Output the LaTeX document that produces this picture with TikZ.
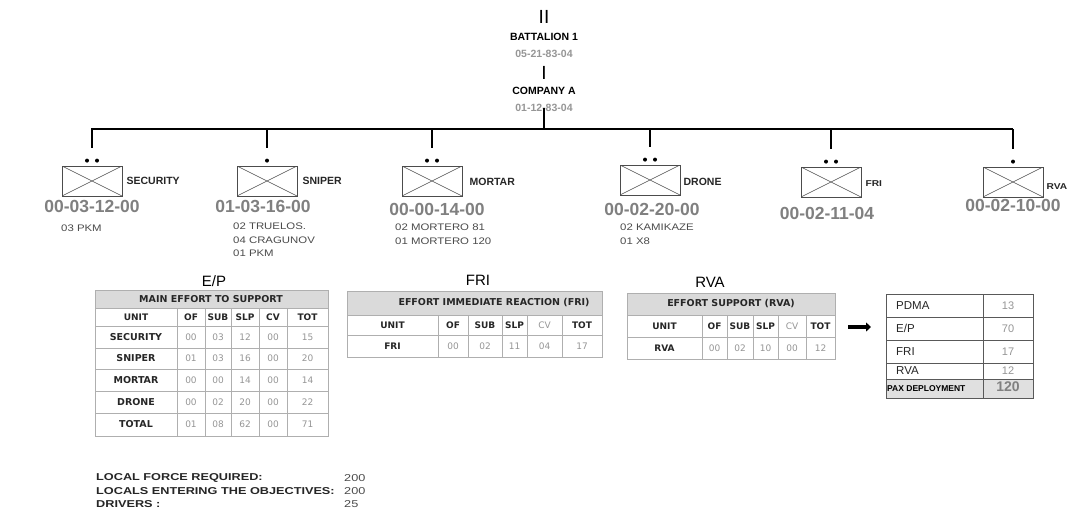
\documentclass[tikz,border=0pt]{standalone}
\usepackage{fontspec}
\setmainfont{Liberation Sans}
\newfontfamily\widesans[FakeStretch=1.2]{Liberation Sans}
\newfontfamily\footsans[FakeStretch=1.27]{Liberation Sans}
\newfontfamily\tabsans{DejaVu Sans}
\usetikzlibrary{positioning,arrows.meta}

\definecolor{codegray}{RGB}{128,128,128}
\definecolor{numgray}{RGB}{150,150,150}
\definecolor{gridgray}{RGB}{175,175,175}
\definecolor{headgray}{RGB}{218,218,218}
\definecolor{textgray}{RGB}{75,75,75}

\newcommand{\fs}[2]{\fontsize{#1}{#2}\selectfont}

\tikzset{
	unitbox/.style={draw=black!70, line width=0.8pt, minimum width=60pt, minimum height=30pt, inner sep=0pt,
		path picture={\draw[black!70, line width=0.6pt] (path picture bounding box.north west) -- (path picture bounding box.south east)
			(path picture bounding box.north east) -- (path picture bounding box.south west);}},
	unitlbl/.style={font=\fs{10.5}{12}\bfseries, text=black!85, inner sep=0pt, anchor=west},
	smalllbl/.style={font=\widesans\fs{8.5}{10}\bfseries, text=black!85, inner sep=0pt, anchor=west},
	unitcode/.style={font=\fs{17.5}{20}\bfseries, text=codegray, inner sep=0pt},
	subtxt/.style={font=\widesans\fs{9.5}{13.5}, text=textgray, align=left, inner sep=0pt, anchor=north west},
	hqname/.style={font=\fs{10.5}{12}\bfseries, inner sep=1pt},
	hqcode/.style={font=\fs{10.5}{12}\bfseries, text=numgray, inner sep=1pt},
	echelon/.style={font=\fs{19}{20}, inner sep=0pt},
	barline/.style={line width=2.4pt},
	tabtitle/.style={font=\fs{15}{17}, inner sep=0pt},
	tabhead/.style={font=\tabsans\fs{9.5}{11}\bfseries, text=black!85, inner sep=0pt},
	colhead/.style={font=\tabsans\fs{9}{10}\bfseries, text=black!85, inner sep=0pt},
	rowhead/.style={font=\tabsans\fs{9.5}{11}\bfseries, text=black!85, inner sep=0pt},
	cvhead/.style={font=\tabsans\fs{9}{10}, text=numgray, inner sep=0pt},
	num/.style={font=\tabsans\fs{9}{10}, text=numgray, inner sep=0pt},
	grid/.style={draw=gridgray, line width=0.6pt},
	sumline/.style={draw=black!65, line width=0.9pt},
	sumlbl/.style={font=\fs{11.5}{13}, text=black!85, inner sep=0pt, anchor=west},
	sumval/.style={font=\fs{11}{13}, text=numgray, inner sep=0pt},
	pointer/.style={line width=3.6pt, -{Triangle[length=5pt,width=9pt]}},
	foot/.style={font=\footsans\fs{10}{12}\bfseries, text=black!85, inner sep=0pt, anchor=west},
	footval/.style={font=\footsans\fs{10}{12}, text=textgray, inner sep=0pt, anchor=west}
}

\begin{document}
\begin{tikzpicture}[x=1pt, y=-1pt]
		%%%%% START %%%%%
		\useasboundingbox[fill=white] (0,0) rectangle (1069,517);
		
		% battalion and company
		\node[echelon] (ii) at (544,17) {II};
		\node[hqname] (bat) at (544,37) {BATTALION 1};
		\node[hqcode] (batc) at (544,54) {05-21-83-04};
		\node[echelon] (i) at (544,73) {I};
		\node[hqname] (com) at (544,91) {COMPANY A};
		\node[hqcode] (comc) at (544,108) {01-12-83-04};
		
		\coordinate (b0) at (544,129);
		\coordinate (b1) at (92,129);
		\coordinate (b6) at (1012,129);
		\draw[barline] (comc.center) -- (b0);
		\draw[barline, line cap=rect] (b1) -- (b6);
		
		% units
		\node[unitbox] (sec) at (92,181) {};
		\node[unitbox] (snp) at (267,181) {};
		\node[unitbox] (mor) at (432,181) {};
		\node[unitbox] (dro) at (650,180) {};
		\node[unitbox] (fri) at (831,182) {};
		\node[unitbox] (rva) at (1013,182) {};
		
		\foreach \u in {sec,snp,mor,dro,fri,rva}
			\draw[barline, shorten >=18pt] (\u.north |- b0) -- (\u.north);
		
		\fill ([xshift=-5pt,yshift=5pt]sec.north) circle (2pt) ([xshift=5pt,yshift=5pt]sec.north) circle (2pt);
		\fill ([yshift=5pt]snp.north) circle (2pt);
		\fill ([xshift=-5pt,yshift=5pt]mor.north) circle (2pt) ([xshift=5pt,yshift=5pt]mor.north) circle (2pt);
		\fill ([xshift=-5pt,yshift=5pt]dro.north) circle (2pt) ([xshift=5pt,yshift=5pt]dro.north) circle (2pt);
		\fill ([xshift=-5pt,yshift=5pt]fri.north) circle (2pt) ([xshift=5pt,yshift=5pt]fri.north) circle (2pt);
		\fill ([yshift=5pt]rva.north) circle (2pt);
		
		\node[unitlbl, right=4pt of sec] (secl) {SECURITY};
		\node[unitlbl, right=5pt of snp] (snpl) {SNIPER};
		\node[unitlbl, right=7pt of mor, yshift=-1pt] (morl) {MORTAR};
		\node[unitlbl, right=3pt of dro, yshift=-2pt] (drol) {DRONE};
		\node[smalllbl, right=4pt of fri, yshift=-2pt] (fril) {FRI};
		\node[smalllbl, right=3pt of rva, yshift=-5pt] (rval) {RVA};
		
		\node[unitcode] (secc) at (92,206) {00-03-12-00};
		\node[unitcode] (snpc) at (263,206) {01-03-16-00};
		\node[unitcode] (morc) at (437,209) {00-00-14-00};
		\node[unitcode] (droc) at (652,209) {00-02-20-00};
		\node[unitcode] (fric) at (827,213) {00-02-11-04};
		\node[unitcode] (rvac) at (1013,205) {00-02-10-00};
		
		\node[subtxt] (secs) at (61,225) {03 PKM};
		\node[subtxt] (snps) at (233,223) {02 TRUELOS.\\04 CRAGUNOV\\01 PKM};
		\node[subtxt] (mors) at (395,224) {02 MORTERO 81\\01 MORTERO 120};
		\node[subtxt] (dros) at (620,224) {02 KAMIKAZE\\01 X8};
		
		% E/P table
		\node[tabtitle] (eptitle) at (214,281) {E/P};
		\fill[headgray] (95,290) rectangle (328,308);
		\draw[grid] (95,290) rectangle (328,436);
		\foreach \y in {308,326,348,369,391,413} \draw[grid] (95,\y) -- (328,\y);
		\foreach \x in {177,205,231,259,287} \draw[grid] (\x,308) -- (\x,436);
		\node[tabhead] (ephead) at (211,299) {MAIN EFFORT TO SUPPORT};
		\foreach \t/\x in {UNIT/136,OF/191,SUB/218,SLP/245,CV/273,TOT/307.5}
			\node[colhead] (ep-\t) at (\x,317) {\t};
		\foreach \u/\y/\a/\b/\c/\d/\e in {SECURITY/337/00/03/12/00/15,SNIPER/358.5/01/03/16/00/20,
				MORTAR/380/00/00/14/00/14,DRONE/402/00/02/20/00/22,TOTAL/424.5/01/08/62/00/71}{
			\node[rowhead] (ep-\u) at (136,\y) {\u};
			\node[num] (ep-\u-of) at (191,\y) {\a};
			\node[num] (ep-\u-sub) at (218,\y) {\b};
			\node[num] (ep-\u-slp) at (245,\y) {\c};
			\node[num] (ep-\u-cv) at (273,\y) {\d};
			\node[num] (ep-\u-tot) at (307.5,\y) {\e};
		}
		
		% FRI table
		\node[tabtitle] (frititle) at (478,280) {FRI};
		\fill[headgray] (347,291) rectangle (602,315);
		\draw[grid] (347,291) rectangle (602,357);
		\foreach \y in {315,335} \draw[grid] (347,\y) -- (602,\y);
		\foreach \x in {438,468,502,527,562} \draw[grid] (\x,315) -- (\x,357);
		\node[tabhead] (frihead) at (494,303) {EFFORT IMMEDIATE REACTION (FRI)};
		\foreach \t/\x in {UNIT/392.5,OF/453,SUB/485,SLP/514.5,TOT/582}
			\node[colhead] (fri-\t) at (\x,325) {\t};
		\node[cvhead] (fri-CV) at (544.5,325) {CV};
		\node[colhead] (fri-FRI) at (392.5,346) {FRI};
		\foreach \v/\x in {00/453,02/485,11/514.5,04/544.5,17/582}
			\node[num] (fri-\x) at (\x,346) {\v};
		
		% RVA table
		\node[tabtitle] (rvatitle) at (710,282) {RVA};
		\fill[headgray] (627,293) rectangle (835,315);
		\draw[grid] (627,293) rectangle (835,359);
		\foreach \y in {315,337} \draw[grid] (627,\y) -- (835,\y);
		\foreach \x in {702,727,753,778,806} \draw[grid] (\x,315) -- (\x,359);
		\node[tabhead] (rvahead) at (731,304) {EFFORT SUPPORT (RVA)};
		\foreach \t/\x in {UNIT/664.5,OF/714.5,SUB/740,SLP/765.5,TOT/820.5}
			\node[colhead] (rva-\t) at (\x,326) {\t};
		\node[cvhead] (rva-CV) at (792,326) {CV};
		\node[colhead] (rva-RVA) at (664.5,348) {RVA};
		\foreach \v/\x in {00/714.5,02/740,10/765.5,00/792,12/820.5}
			\node[num] (rva-\x) at (\x,348) {\v};
		
		\coordinate (arrs) at (848,327);
		\coordinate (arre) at (871,327);
		\draw[pointer] (arrs) -- (arre);
		
		% deployment summary
		\fill[black!12] (886,379) rectangle (1033,398);
		\draw[sumline] (886,294) rectangle (1033,398);
		\foreach \y in {317,340,363,379} \draw[sumline] (886,\y) -- (1033,\y);
		\draw[sumline] (983,294) -- (983,398);
		\foreach \t/\v/\y in {PDMA/13/305.5,E\slash P/70/328.5,FRI/17/351.5,RVA/12/371}{
			\node[sumlbl] (sum-\y) at (896,\y) {\t};
			\node[sumval] (sumv-\y) at (1008,\y) {\v};
		}
		\node[font=\fs{8.5}{9}\bfseries, inner sep=0pt, anchor=west] (pax) at (887,388.5) {PAX DEPLOYMENT};
		\node[font=\fs{14}{15}\bfseries, text=codegray, inner sep=0pt] (paxv) at (1008,387) {120};
		
		% locals
		\node[foot] (lfr) at (96,478) {LOCAL FORCE REQUIRED:};
		\node[foot] (leo) at (96,491) {LOCALS ENTERING THE OBJECTIVES:};
		\node[foot] (drv) at (96,504) {DRIVERS :};
		\node[footval] (lfrv) at (344,478) {200};
		\node[footval] (leov) at (344,491) {200};
		\node[footval] (drvv) at (344,504) {25};
		
		%%%%% END %%%%%
\end{tikzpicture}
\end{document}
